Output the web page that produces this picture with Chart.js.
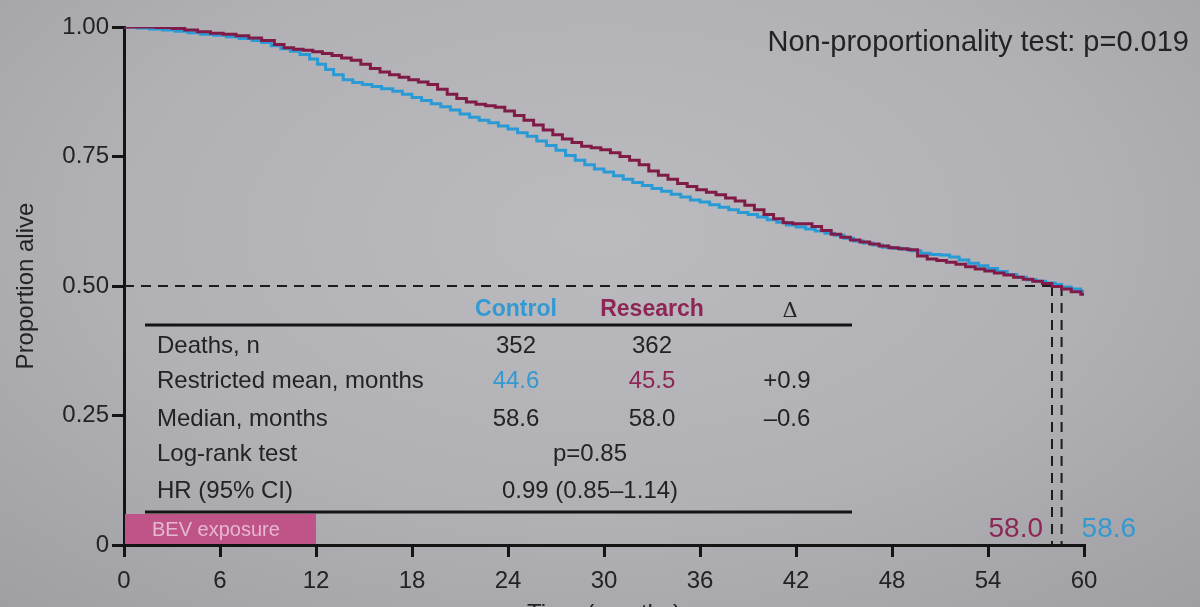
<!DOCTYPE html>
<html><head><meta charset="utf-8">
<script src="https://cdn.jsdelivr.net/npm/chart.js@4.4.1/dist/chart.umd.min.js"></script>
<style>
html,body{margin:0;padding:0;width:1200px;height:607px;overflow:hidden;
background:radial-gradient(ellipse 75% 85% at 50% 38%, #bbbbbf 0%, #b1b1b5 55%, #9e9ea3 100%);}
canvas{display:block;}
</style></head><body>
<canvas id="c" width="1200" height="607"></canvas>
<script>
// ---- data ----
const xTickValues = [0,6,12,18,24,30,36,42,48,54,60];
const yTickValues = [0,0.25,0.5,0.75,1];
const yTickLabels = ['0','0.25','0.50','0.75','1.00'];

const controlTime = [0,0.8,1.6,2.4,3.2,4.0,4.8,5.6,6.4,7.2,8.0,8.6,9.2,9.8,10.4,11.0,11.6,12.1,12.6,13.1,13.7,14.3,14.9,15.5,16.1,16.8,17.4,18.0,18.6,19.2,19.8,20.4,21.0,21.6,22.2,22.8,23.4,24.0,24.6,25.2,25.8,26.4,27.0,27.6,28.2,28.8,29.4,30.0,30.6,31.2,31.8,32.4,33.0,33.6,34.2,34.8,35.4,36.0,36.6,37.2,37.8,38.4,39.0,39.6,40.2,40.8,41.4,42.0,42.6,43.2,43.8,44.4,45.0,45.6,46.2,46.8,47.4,48.0,48.6,49.2,49.8,50.4,51.0,51.6,52.2,52.8,53.4,54.0,54.6,55.2,55.8,56.4,57.0,57.6,58.2,58.6,59.2,59.8,60.0];
const controlSurv = [1.000,0.998,0.996,0.994,0.992,0.989,0.986,0.984,0.981,0.978,0.974,0.970,0.964,0.958,0.953,0.947,0.938,0.928,0.918,0.908,0.898,0.893,0.889,0.885,0.881,0.876,0.870,0.864,0.858,0.852,0.846,0.840,0.832,0.826,0.820,0.815,0.809,0.803,0.796,0.789,0.780,0.771,0.762,0.752,0.743,0.734,0.726,0.720,0.713,0.706,0.700,0.694,0.688,0.683,0.677,0.672,0.666,0.662,0.657,0.652,0.647,0.642,0.638,0.633,0.628,0.623,0.618,0.614,0.610,0.606,0.602,0.598,0.592,0.587,0.583,0.579,0.575,0.573,0.571,0.568,0.563,0.561,0.560,0.556,0.550,0.544,0.539,0.534,0.528,0.522,0.517,0.512,0.509,0.506,0.503,0.498,0.494,0.490,0.488];

const researchTime = [0,1.0,2.0,3.0,3.8,4.6,5.4,6.2,7.0,7.8,8.6,9.4,10.0,10.6,11.2,11.8,12.4,13.0,13.6,14.2,14.8,15.4,16.0,16.6,17.2,17.8,18.4,19.0,19.6,20.2,20.8,21.4,22.0,22.6,23.2,23.8,24.4,25.0,25.6,26.2,26.8,27.4,28.0,28.6,29.2,29.8,30.4,31.0,31.6,32.2,32.8,33.4,34.0,34.6,35.2,35.8,36.4,37.0,37.6,38.2,38.8,39.4,40.0,40.6,41.2,41.8,42.4,43.0,43.6,44.2,44.8,45.4,46.0,46.6,47.2,47.8,48.4,49.0,49.6,50.2,50.8,51.4,52.0,52.6,53.2,53.8,54.4,55.0,55.6,56.2,56.8,57.4,58.0,58.6,59.2,59.8,60.0];
const researchSurv = [1.000,1.000,0.999,0.997,0.994,0.991,0.988,0.986,0.983,0.979,0.974,0.966,0.960,0.957,0.955,0.952,0.949,0.945,0.940,0.936,0.928,0.920,0.913,0.908,0.903,0.898,0.894,0.889,0.880,0.870,0.862,0.855,0.851,0.848,0.845,0.838,0.829,0.820,0.811,0.801,0.792,0.784,0.777,0.770,0.767,0.763,0.757,0.750,0.743,0.734,0.722,0.714,0.706,0.698,0.692,0.686,0.681,0.676,0.670,0.664,0.656,0.647,0.638,0.630,0.622,0.620,0.620,0.615,0.607,0.600,0.594,0.589,0.585,0.581,0.577,0.574,0.572,0.570,0.558,0.552,0.549,0.546,0.542,0.537,0.533,0.529,0.525,0.521,0.517,0.513,0.509,0.505,0.499,0.494,0.489,0.484,0.481];

const medianLevel = 0.5;
const medianControl = 58.6;
const medianResearch = 58.0;
const medianLabels = ['58.0','58.6'];
const bevExposure = [0, 12];
const bevLabel = 'BEV exposure';
const tableHeader = ['Control','Research','\u0394'];
const tableRowLabels = ['Deaths, n','Restricted mean, months','Median, months','Log-rank test','HR (95% CI)'];
const controlCol = ['352','44.6','58.6'];
const researchCol = ['362','45.5','58.0'];
const deltaCol = ['','+0.9','\u20130.6'];
const spanCol = ['p=0.85','0.99 (0.85\u20131.14)'];
const testNote = 'Non-proportionality test: p=0.019';

// ---- style ----
const FONT = "'Liberation Sans', Arial, sans-serif";
const INK = '#232323';
const BLUE_LINE = '#2a9ad6';
const RED_LINE = '#801b48';
const BLUE_TXT = '#3399d2';
const RED_TXT = '#8d2656';

const pts = (t, s) => t.slice(0, Math.min(t.length, s.length)).map((v, i) => ({x: v, y: s[i]}));

const overlay = {
  id: 'overlay',
  beforeDatasetsDraw(chart) {
    const ctx = chart.ctx, xs = chart.scales.x, ys = chart.scales.y;
    const x0 = xs.getPixelForValue(bevExposure[0]), x1 = xs.getPixelForValue(bevExposure[1]);
    const yb = ys.getPixelForValue(0);
    ctx.save();
    ctx.fillStyle = '#bf5489';
    ctx.fillRect(x0 + 1, yb - 31, x1 - x0 - 1, 30);
    ctx.fillStyle = 'rgba(236,200,218,0.85)';
    ctx.font = '20px ' + FONT;
    ctx.textBaseline = 'middle';
    ctx.textAlign = 'left';
    ctx.fillText(bevLabel, x0 + 28, yb - 15);
    ctx.restore();
  },
  afterDraw(chart) {
    const ctx = chart.ctx, xs = chart.scales.x;
    ctx.save();
    ctx.textBaseline = 'middle';
    // note
    ctx.font = '29px ' + FONT;
    ctx.fillStyle = INK;
    ctx.textAlign = 'right';
    ctx.fillText(testNote, 1189, 43);
    // header
    ctx.textAlign = 'center';
    ctx.font = 'bold 23px ' + FONT;
    ctx.fillStyle = BLUE_TXT; ctx.fillText(tableHeader[0], 516, 310);
    ctx.fillStyle = RED_TXT; ctx.fillText(tableHeader[1], 652, 310);
    ctx.font = "21px 'DejaVu Serif', serif";
    ctx.fillStyle = INK; ctx.fillText(tableHeader[2], 790, 312);
    // rules
    ctx.strokeStyle = '#141414'; ctx.lineWidth = 3;
    ctx.beginPath(); ctx.moveTo(145, 325); ctx.lineTo(852, 325); ctx.stroke();
    ctx.beginPath(); ctx.moveTo(145, 512); ctx.lineTo(852, 512); ctx.stroke();
    // rows
    const rowY = [346, 381, 419, 454, 491];
    ctx.font = '24px ' + FONT;
    ctx.textAlign = 'left'; ctx.fillStyle = INK;
    tableRowLabels.forEach((l, i) => ctx.fillText(l, 157, rowY[i]));
    ctx.textAlign = 'center';
    controlCol.forEach((v, i) => { ctx.fillStyle = i === 1 ? BLUE_TXT : INK; ctx.fillText(v, 516, rowY[i]); });
    researchCol.forEach((v, i) => { ctx.fillStyle = i === 1 ? RED_TXT : INK; ctx.fillText(v, 652, rowY[i]); });
    ctx.fillStyle = INK;
    deltaCol.forEach((v, i) => { if (v) ctx.fillText(v, 787, rowY[i]); });
    spanCol.forEach((v, i) => ctx.fillText(v, 590, rowY[3 + i]));
    // median labels
    ctx.font = '28px ' + FONT;
    ctx.textAlign = 'right'; ctx.fillStyle = RED_TXT;
    ctx.fillText(medianLabels[0], xs.getPixelForValue(medianResearch) - 9, 529);
    ctx.textAlign = 'left'; ctx.fillStyle = BLUE_TXT;
    ctx.fillText(medianLabels[1], xs.getPixelForValue(medianControl) + 20, 529);
    ctx.restore();
  }
};

const dashStyle = {borderColor: '#1c1c1c', borderWidth: 2, borderDash: [10, 7], pointRadius: 0, fill: false, tension: 0};

new Chart(document.getElementById('c'), {
  type: 'line',
  data: {
    datasets: [
      {label: 'Research', data: pts(researchTime, researchSurv), borderColor: RED_LINE, borderWidth: 3, stepped: true, pointRadius: 0, fill: false},
      {label: 'Control', data: pts(controlTime, controlSurv), borderColor: BLUE_LINE, borderWidth: 3, stepped: true, pointRadius: 0, fill: false},
      Object.assign({label: 'median', data: [{x: 0, y: medianLevel}, {x: medianControl, y: medianLevel}]}, dashStyle),
      Object.assign({label: 'mR', data: [{x: medianResearch, y: medianLevel}, {x: medianResearch, y: 0}]}, dashStyle),
      Object.assign({label: 'mC', data: [{x: medianControl, y: medianLevel}, {x: medianControl, y: 0}]}, dashStyle)
    ]
  },
  options: {
    responsive: false,
    animation: false,
    layout: {padding: {left: 0, right: 116, top: 27, bottom: 0}},
    plugins: {legend: {display: false}, tooltip: {enabled: false}},
    scales: {
      x: {
        type: 'linear', min: 0, max: 60,
        afterBuildTicks: s => { s.ticks = xTickValues.map(v => ({value: v})); },
        ticks: {font: {size: 24, family: FONT}, color: INK, padding: 10, maxRotation: 0, autoSkip: false},
        grid: {drawOnChartArea: false, drawTicks: true, tickLength: 12, lineWidth: 3, tickWidth: 3, tickColor: '#141414', color: '#141414'},
        border: {color: '#141414', width: 3},
        title: {display: true, text: 'Time (months)', font: {size: 24, family: FONT}, color: INK, padding: {top: 0, bottom: -22}},
        afterFit: s => { s.height = 62; }
      },
      y: {
        type: 'linear', min: 0, max: 1,
        afterBuildTicks: s => { s.ticks = yTickValues.map(v => ({value: v})); },
        ticks: {font: {size: 24, family: FONT}, color: INK, padding: 3, callback: (v) => yTickLabels[yTickValues.indexOf(v)] ?? ''},
        grid: {drawOnChartArea: false, drawTicks: true, tickLength: 12, lineWidth: 3, tickWidth: 3, tickColor: '#141414', color: '#141414'},
        border: {color: '#141414', width: 3},
        title: {display: true, text: 'Proportion alive', font: {size: 24, family: FONT}, color: INK, padding: {top: 12, bottom: 0}},
        afterFit: s => { s.width = 124; }
      }
    }
  },
  plugins: [overlay]
});
</script>
</body></html>
